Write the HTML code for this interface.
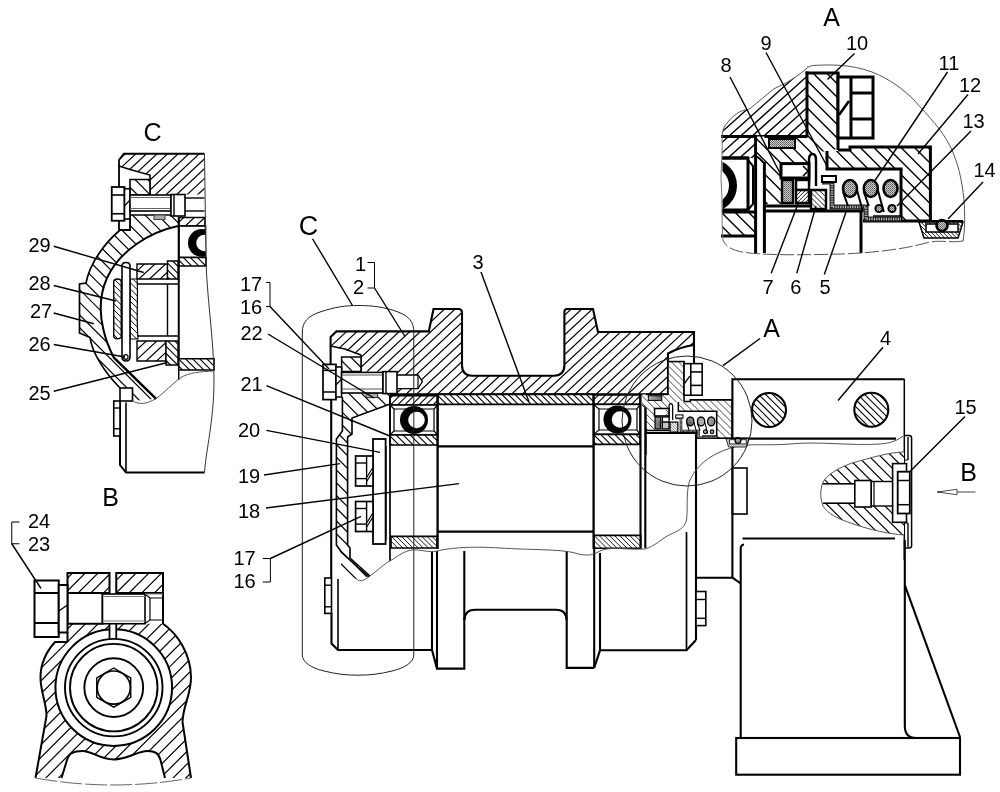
<!DOCTYPE html>
<html><head><meta charset="utf-8"><title>Drawing</title>
<style>html,body{margin:0;padding:0;background:#fff}svg{display:block;will-change:transform;opacity:0.999}text{font-family:"Liberation Sans",sans-serif;fill:#000}</style></head>
<body>
<svg width="1000" height="792" viewBox="0 0 1000 792" stroke-linecap="butt" stroke-linejoin="miter">
<rect width="1000" height="792" fill="#fff"/>
<defs>
<pattern id="st" width="2" height="2" patternUnits="userSpaceOnUse"><rect width="2" height="2" fill="#cfcfcf"/><rect width="1" height="1" fill="#555"/><rect x="1" y="1" width="1" height="1" fill="#777"/></pattern>
</defs>
<g id="1_viewB">
<text x="110.5" y="506" font-size="25" text-anchor="middle">B</text>
<text x="28" y="527.5" font-size="20" text-anchor="start">24</text>
<text x="28" y="551" font-size="20" text-anchor="start">23</text>
<path d="M19.5 522 L11.75 522 L11.75 543.75 L19.5 543.75" fill="none" stroke="#000" stroke-width="1" />
<clipPath id="h1"><path d="M67.5 642 L55 642 C46 652 40.5 664 40.5 677.5 C40.5 692 46.5 703 46.5 716 L35.5 778 L61.5 778 L67 760 C69 753 74 751 82.5 751 C92 751 100 759.5 113.75 759.5 C128 759.5 137 751 147.5 751 C155 751 158.5 753 160.5 760 L165 778 L191 778 L182.5 722 C183 705 191 695 191 677.5 C191 655 178 634 163 623.75 L67.5 623.75 Z"/></clipPath>
<path d="M67.5 642 L55 642 C46 652 40.5 664 40.5 677.5 C40.5 692 46.5 703 46.5 716 L35.5 778 L61.5 778 L67 760 C69 753 74 751 82.5 751 C92 751 100 759.5 113.75 759.5 C128 759.5 137 751 147.5 751 C155 751 158.5 753 160.5 760 L165 778 L191 778 L182.5 722 C183 705 191 695 191 677.5 C191 655 178 634 163 623.75 L67.5 623.75 Z" fill="#fff" stroke="none"/>
<path clip-path="url(#h1)" d="M114.2 544.1L-43.5 701.8M120.6 550.5L-37.1 708.2M126.9 556.8L-30.8 714.6M133.3 563.2L-24.4 720.9M139.7 569.6L-18.1 727.3M146.0 575.9L-11.7 733.6M152.4 582.3L-5.3 740.0M158.7 588.7L1.0 746.4M165.1 595.0L7.4 752.7M171.5 601.4L13.8 759.1M177.8 607.8L20.1 765.5M184.2 614.1L26.5 771.8M190.6 620.5L32.9 778.2M196.9 626.9L39.2 784.6M203.3 633.2L45.6 790.9M209.7 639.6L52.0 797.3M216.0 645.9L58.3 803.6M222.4 652.3L64.7 810.0M228.7 658.7L71.0 816.4M235.1 665.0L77.4 822.7M241.5 671.4L83.8 829.1M247.8 677.8L90.1 835.5M254.2 684.1L96.5 841.8M260.6 690.5L102.9 848.2M266.9 696.9L109.2 854.6" stroke="#000" stroke-width="1.2" fill="none"/>
<circle cx="113.75" cy="687.6" r="58.3" fill="#fff" stroke="#000" stroke-width="2" />
<rect x="109.5" y="623.75" width="6.75" height="16.25" fill="#fff" stroke="none" stroke-width="0" />
<path d="M67.5 642 L55 642 C46 652 40.5 664 40.5 677.5 C40.5 692 46.5 703 46.5 716 L35.5 778" fill="none" stroke="#000" stroke-width="2" />
<path d="M61.5 778 L67 760 C69 753 74 751 82.5 751 C92 751 100 759.5 113.75 759.5 C128 759.5 137 751 147.5 751 C155 751 158.5 753 160.5 760 L165 778" fill="none" stroke="#000" stroke-width="2" />
<path d="M191 778 L182.5 722 C183 705 191 695 191 677.5 C191 655 178 634 163 623.75" fill="none" stroke="#000" stroke-width="2" />
<line x1="109.5" y1="624" x2="109.5" y2="638.5" stroke="#000" stroke-width="1.8" />
<line x1="116.25" y1="624" x2="116.25" y2="638.5" stroke="#000" stroke-width="1.8" />
<circle cx="113.75" cy="687.6" r="48.75" fill="none" stroke="#000" stroke-width="1.9" />
<circle cx="113.75" cy="687.6" r="43.75" fill="none" stroke="#000" stroke-width="1.9" />
<circle cx="113.75" cy="687.6" r="29.4" fill="none" stroke="#000" stroke-width="1.9" />
<circle cx="113.75" cy="687.6" r="16.6" fill="none" stroke="#000" stroke-width="1.7" />
<path d="M113.75 668.0 L130.72 677.8 L130.72 697.4 L113.75 707.2 L96.78 697.4 L96.78 677.8 Z" fill="none" stroke="#000" stroke-width="1.4" />
<path d="M35.5 778 Q113 792 191 778" fill="none" stroke="#666" stroke-width="1" stroke-dasharray="22 3"/>
<clipPath id="h2"><path d="M67.5 573 L109.5 573 L109.5 593 L67.5 593 Z"/></clipPath>
<path d="M67.5 573 L109.5 573 L109.5 593 L67.5 593 Z" fill="#fff" stroke="none"/>
<path clip-path="url(#h2)" d="M92.5 553.1L58.6 587.0M98.8 559.5L65.0 593.3M105.2 565.9L71.4 599.7M111.6 572.2L77.7 606.1M117.9 578.6L84.1 612.4" stroke="#000" stroke-width="1.2" fill="none"/>
<path d="M67.5 573 L109.5 573 L109.5 593 L67.5 593 Z" fill="none" stroke="#000" stroke-width="2"/>
<clipPath id="h3"><path d="M116.25 573 L163 573 L163 593 L116.25 593 Z"/></clipPath>
<path d="M116.25 573 L163 573 L163 593 L116.25 593 Z" fill="#fff" stroke="none"/>
<path clip-path="url(#h3)" d="M144.7 551.8L108.5 588.0M151.0 558.2L114.8 594.4M157.4 564.6L121.2 600.8M163.8 570.9L127.6 607.1M170.1 577.3L133.9 613.5" stroke="#000" stroke-width="1.2" fill="none"/>
<path d="M116.25 573 L163 573 L163 593 L116.25 593 Z" fill="none" stroke="#000" stroke-width="2"/>
<line x1="163" y1="593" x2="163" y2="624" stroke="#000" stroke-width="2" />
<rect x="67.5" y="593" width="35.0" height="30.75" fill="#fff" stroke="#000" stroke-width="2" />
<rect x="102.5" y="594" width="42.5" height="29.75" fill="#fff" stroke="#000" stroke-width="1.6" />
<line x1="102.5" y1="596.5" x2="145" y2="596.5" stroke="#777" stroke-width="1" />
<line x1="102.5" y1="621" x2="145" y2="621" stroke="#777" stroke-width="1" />
<path d="M145 594 L150 598 L163 598" fill="none" stroke="#000" stroke-width="1.2" />
<path d="M145 623.5 L150 620 L163 620" fill="none" stroke="#000" stroke-width="1.2" />
<line x1="150" y1="598" x2="150" y2="620" stroke="#000" stroke-width="1.2" />
<line x1="145" y1="594" x2="163" y2="594" stroke="#888" stroke-width="1" />
<rect x="34.5" y="580.5" width="24.25" height="56.5" fill="#fff" stroke="#000" stroke-width="2" />
<line x1="34.5" y1="593" x2="58.75" y2="593" stroke="#000" stroke-width="2" />
<line x1="34.5" y1="623" x2="58.75" y2="623" stroke="#000" stroke-width="2" />
<rect x="58.75" y="585" width="8.75" height="47.5" fill="#fff" stroke="#000" stroke-width="2" />
<line x1="58.75" y1="611" x2="67.5" y2="605" stroke="#000" stroke-width="1.5" />
<line x1="67.5" y1="632.5" x2="67.5" y2="642" stroke="#000" stroke-width="2" />
<line x1="11.75" y1="543.75" x2="41" y2="588.5" stroke="#000" stroke-width="1.4" />
</g>
<g id="2_detC">
<text x="152.5" y="141" font-size="25" text-anchor="middle">C</text>
<text x="28.5" y="252" font-size="20" text-anchor="start">29</text>
<text x="28.5" y="290" font-size="20" text-anchor="start">28</text>
<text x="30" y="318" font-size="20" text-anchor="start">27</text>
<text x="28.5" y="351.3" font-size="20" text-anchor="start">26</text>
<text x="28.5" y="399.5" font-size="20" text-anchor="start">25</text>
<clipPath id="h4"><path d="M123.75 153.75 L204.5 153.75 L204.5 194.5 L150 194.5 L150 175 L119 166 L119 160 Z"/></clipPath>
<path d="M123.75 153.75 L204.5 153.75 L204.5 194.5 L150 194.5 L150 175 L119 166 L119 160 Z" fill="#fff" stroke="none"/>
<path clip-path="url(#h4)" d="M169.2 113.0L100.2 177.3M174.1 118.2L105.1 182.5M179.0 123.5L110.0 187.8M183.9 128.8L114.9 193.1M188.8 134.0L119.9 198.3M193.7 139.3L124.8 203.6M198.7 144.6L129.7 208.9M203.6 149.8L134.6 214.1M208.5 155.1L139.5 219.4M213.4 160.3L144.4 224.7M218.3 165.6L149.3 229.9M223.2 170.9L154.2 235.2" stroke="#000" stroke-width="1.2" fill="none"/>
<path d="M204.5 153.75 L123.75 153.75 L119 160 L119 187" fill="none" stroke="#000" stroke-width="1.8" />
<path d="M119 166 L130 169.5 L150 175 L150 194.5" fill="none" stroke="#000" stroke-width="1.6" />
<line x1="119" y1="221" x2="119" y2="230" stroke="#000" stroke-width="1.8" />
<clipPath id="h5"><path d="M130 179.5 L150 179.5 L150 195 L130 195 Z"/></clipPath>
<path d="M130 179.5 L150 179.5 L150 195 L130 195 Z" fill="#fff" stroke="none"/>
<path clip-path="url(#h5)" d="M124.7 182.0L145.3 202.6M131.1 175.6L151.6 196.2M137.4 169.2L158.0 189.8" stroke="#000" stroke-width="1.2" fill="none"/>
<path d="M130 179.5 L150 179.5 L150 195 L130 195 Z" fill="none" stroke="#000" stroke-width="1.6"/>
<clipPath id="h6"><path d="M130 215 L178 215 L178 226 C150 232 120 250 107 278 C99 296 99.5 314 103.5 330 C106 341 110 350 113.75 357.5 L156 398.75 L132.5 401 L132.5 388 L120 388 C104 372 92 352 90 337.5 L79.5 333 L79.5 284 L86 283 C90 262 106 242 119.5 230.5 L130 230 Z"/></clipPath>
<path d="M130 215 L178 215 L178 226 C150 232 120 250 107 278 C99 296 99.5 314 103.5 330 C106 341 110 350 113.75 357.5 L156 398.75 L132.5 401 L132.5 388 L120 388 C104 372 92 352 90 337.5 L79.5 333 L79.5 284 L86 283 C90 262 106 242 119.5 230.5 L130 230 Z" fill="#fff" stroke="none"/>
<path clip-path="url(#h6)" d="M-10.1 301.8L135.0 446.8M-3.7 295.4L141.4 440.5M2.6 289.0L147.7 434.1M9.0 282.7L154.1 427.7M15.4 276.3L160.5 421.4M21.7 269.9L166.8 415.0M28.1 263.6L173.2 408.6M34.5 257.2L179.5 402.3M40.8 250.8L185.9 395.9M47.2 244.5L192.3 389.6M53.6 238.1L198.6 383.2M59.9 231.7L205.0 376.8M66.3 225.4L211.4 370.5M72.7 219.0L217.7 364.1M79.0 212.7L224.1 357.7M85.4 206.3L230.5 351.4M91.7 199.9L236.8 345.0M98.1 193.6L243.2 338.6M104.5 187.2L249.5 332.3M110.8 180.8L255.9 325.9M117.2 174.5L262.3 319.6M123.6 168.1L268.6 313.2" stroke="#000" stroke-width="1.2" fill="none"/>
<path d="M178 226 C150 232 120 250 107 278 C99 296 99.5 314 103.5 330 C106 341 110 350 113.75 357.5 L156 398.75" fill="none" stroke="#000" stroke-width="2" />
<path d="M119.5 230.5 C106 242 90 262 86 283 L79.5 284 L79.5 333 L90 337.5 C92 352 104 372 120 388" fill="none" stroke="#000" stroke-width="1.7" />
<path d="M119 230 L130 230 L130 188.75" fill="none" stroke="#000" stroke-width="1.8" />
<rect x="111.75" y="187" width="12.75" height="33.75" fill="#fff" stroke="#000" stroke-width="1.8" />
<line x1="111.75" y1="195" x2="124.5" y2="195" stroke="#000" stroke-width="1.6" />
<line x1="111.75" y1="213.75" x2="124.5" y2="213.75" stroke="#000" stroke-width="1.6" />
<rect x="124.5" y="188.75" width="5.5" height="30.25" fill="#fff" stroke="#000" stroke-width="1.6" />
<line x1="124.5" y1="206" x2="130" y2="200" stroke="#000" stroke-width="1.2" />
<rect x="130" y="195" width="41" height="16" fill="#fff" stroke="#000" stroke-width="1.6" />
<line x1="130" y1="197.5" x2="171" y2="197.5" stroke="#666" stroke-width="1" />
<line x1="130" y1="208.5" x2="171" y2="208.5" stroke="#666" stroke-width="1" />
<rect x="171" y="194.5" width="14" height="21.5" fill="#fff" stroke="#000" stroke-width="1.6" />
<line x1="174" y1="194.5" x2="174" y2="216" stroke="#000" stroke-width="1.4" />
<path d="M185 198 L204.5 198" fill="none" stroke="#000" stroke-width="1.4" />
<path d="M185 211 L204.5 211" fill="none" stroke="#000" stroke-width="1.4" />
<line x1="130" y1="215" x2="171" y2="215" stroke="#000" stroke-width="1.6" />
<rect x="154" y="215" width="11" height="4.5" fill="#aaa" stroke="#444" stroke-width="1" />
<clipPath id="h7"><path d="M178.75 217.5 L205 217.5 L205 226 L178.75 226 Z"/></clipPath>
<path d="M178.75 217.5 L205 217.5 L205 226 L178.75 226 Z" fill="#fff" stroke="none"/>
<path clip-path="url(#h7)" d="M196.6 205.5L175.4 225.3M201.5 210.8L180.3 230.6M206.4 216.1L185.2 235.9M211.3 221.3L190.1 241.1" stroke="#000" stroke-width="1.2" fill="none"/>
<path d="M178.75 217.5 L205 217.5 L205 226 L178.75 226 Z" fill="none" stroke="#000" stroke-width="1.6"/>
<rect x="178.75" y="226" width="26.75" height="31.5" fill="#fff" stroke="#000" stroke-width="1.6" />
<clipPath id="h8"><path d="M178.75 257.5 L206 257.5 L206 266 L178.75 266 Z"/></clipPath>
<path d="M178.75 257.5 L206 257.5 L206 266 L178.75 266 Z" fill="#fff" stroke="none"/>
<path clip-path="url(#h8)" d="M172.5 260.9L193.2 281.6M176.1 257.4L196.8 278.1M179.6 253.8L200.3 274.5M183.1 250.3L203.8 271.0M186.7 246.8L207.4 267.5M190.2 243.2L210.9 263.9" stroke="#000" stroke-width="1.1" fill="none"/>
<path d="M178.75 257.5 L206 257.5 L206 266 L178.75 266 Z" fill="none" stroke="#000" stroke-width="1.6"/>
<clipPath id="cC"><path d="M100 150 L204.5 150 L206 260 C207 300 214 340 214 380 C214 420 206 450 204.5 472.5 L204.5 480 L100 480 Z"/></clipPath>
<g clip-path="url(#cC)">
<circle cx="202" cy="243" r="14" fill="#000" stroke="none" stroke-width="0" />
<circle cx="204.5" cy="243" r="8.3" fill="#fff" stroke="none" stroke-width="0" />
</g>
<line x1="178.75" y1="217" x2="178.75" y2="366" stroke="#000" stroke-width="2" />
<clipPath id="h9"><path d="M137 264 L167.5 264 L167.5 279 L137 279 Z"/></clipPath>
<path d="M137 264 L167.5 264 L167.5 279 L137 279 Z" fill="#fff" stroke="none"/>
<path clip-path="url(#h9)" d="M158.2 251.1L131.5 276.1M163.2 256.4L136.4 281.3M168.1 261.7L141.3 286.6M173.0 266.9L146.3 291.9" stroke="#000" stroke-width="1.2" fill="none"/>
<path d="M137 264 L167.5 264 L167.5 279 L137 279 Z" fill="none" stroke="#000" stroke-width="1.4"/>
<clipPath id="h10"><path d="M167.5 261 L178 261 L178 279 L167.5 279 Z"/></clipPath>
<path d="M167.5 261 L178 261 L178 279 L167.5 279 Z" fill="#fff" stroke="none"/>
<path clip-path="url(#h10)" d="M158.0 267.6L175.1 284.7M161.6 264.1L178.6 281.2M165.1 260.6L182.2 277.6M168.6 257.0L185.7 274.1" stroke="#000" stroke-width="1.1" fill="none"/>
<path d="M167.5 261 L178 261 L178 279 L167.5 279 Z" fill="none" stroke="#000" stroke-width="1.4"/>
<line x1="137" y1="284" x2="178" y2="284" stroke="#000" stroke-width="1.4" />
<line x1="167.5" y1="284" x2="167.5" y2="336" stroke="#000" stroke-width="1.4" />
<line x1="137" y1="336" x2="178" y2="336" stroke="#000" stroke-width="1.4" />
<clipPath id="h11"><path d="M137 341 L166 341 L166 361 L137 361 Z"/></clipPath>
<path d="M137 341 L166 341 L166 361 L137 361 Z" fill="#fff" stroke="none"/>
<path clip-path="url(#h11)" d="M153.4 324.6L125.0 351.1M158.3 329.8L129.9 356.3M163.2 335.1L134.8 361.6M168.1 340.4L139.7 366.9M173.1 345.6L144.6 372.1M178.0 350.9L149.6 377.4" stroke="#000" stroke-width="1.2" fill="none"/>
<path d="M137 341 L166 341 L166 361 L137 361 Z" fill="none" stroke="#000" stroke-width="1.4"/>
<clipPath id="h12"><path d="M166 341 L178 341 L178 365 L166 365 Z"/></clipPath>
<path d="M166 341 L178 341 L178 365 L166 365 Z" fill="#fff" stroke="none"/>
<path clip-path="url(#h12)" d="M154.9 349.3L175.7 370.1M158.4 345.8L179.2 366.6M161.9 342.2L182.8 363.1M165.5 338.7L186.3 359.5M169.0 335.2L189.8 356.0" stroke="#000" stroke-width="1.1" fill="none"/>
<path d="M166 341 L178 341 L178 365 L166 365 Z" fill="none" stroke="#000" stroke-width="1.4"/>
<clipPath id="h13"><path d="M130 279 L137 279 C138.5 295 136 310 138 339 L130 339 Z"/></clipPath>
<path d="M130 279 L137 279 C138.5 295 136 310 138 339 L130 339 Z" fill="#fff" stroke="none"/>
<path clip-path="url(#h13)" d="M98.9 307.3L135.9 344.4M102.0 304.2L139.0 341.3M105.1 301.1L142.2 338.2M108.2 298.0L145.3 335.1M111.3 294.9L148.4 331.9M114.4 291.8L151.5 328.8M117.5 288.6L154.6 325.7M120.6 285.5L157.7 322.6M123.7 282.4L160.8 319.5M126.9 279.3L163.9 316.4M130.0 276.2L167.0 313.3M133.1 273.1L170.2 310.2" stroke="#000" stroke-width="1" fill="none"/>
<path d="M130 279 L137 279 C138.5 295 136 310 138 339 L130 339 Z" fill="none" stroke="#000" stroke-width="1.2"/>
<clipPath id="h14"><path d="M113.75 282 Q113.75 279 117.5 279 Q121.25 279 121.25 282 L121.25 336 Q121.25 338.75 117.5 338.75 Q113.75 338.75 113.75 336 Z"/></clipPath>
<path d="M113.75 282 Q113.75 279 117.5 279 Q121.25 279 121.25 282 L121.25 336 Q121.25 338.75 117.5 338.75 Q113.75 338.75 113.75 336 Z" fill="#fff" stroke="none"/>
<path clip-path="url(#h14)" d="M84.5 305.4L121.0 341.9M87.6 302.3L124.1 338.8M90.7 299.2L127.2 335.6M93.8 296.1L130.3 332.5M97.0 293.0L133.4 329.4M100.1 289.9L136.5 326.3M103.2 286.7L139.6 323.2M106.3 283.6L142.7 320.1M109.4 280.5L145.9 317.0M112.5 277.4L149.0 313.9M115.6 274.3L152.1 310.8" stroke="#000" stroke-width="1" fill="none"/>
<path d="M113.75 282 Q113.75 279 117.5 279 Q121.25 279 121.25 282 L121.25 336 Q121.25 338.75 117.5 338.75 Q113.75 338.75 113.75 336 Z" fill="none" stroke="#000" stroke-width="1.4"/>
<path d="M122 266 Q122 262.5 126 262.5 Q130 262.5 130 266 L130 357 Q130 361 126 361 Q122 361 122 357 Z" fill="#fff" stroke="#000" stroke-width="1.6" />
<circle cx="125.8" cy="357" r="2.3" fill="none" stroke="#000" stroke-width="1.2" />
<line x1="113.75" y1="357.5" x2="156" y2="398.75" stroke="#000" stroke-width="2.4" />
<clipPath id="h15"><path d="M178.75 358.75 L214 358.75 L214 370 L178.75 370 Z"/></clipPath>
<path d="M178.75 358.75 L214 358.75 L214 370 L178.75 370 Z" fill="#fff" stroke="none"/>
<path clip-path="url(#h15)" d="M173.6 361.0L199.7 387.1M177.2 357.5L203.3 383.6M180.7 354.0L206.8 380.0M184.3 350.4L210.3 376.5M187.8 346.9L213.9 373.0M191.3 343.3L217.4 369.4M194.9 339.8L220.9 365.9" stroke="#000" stroke-width="1.1" fill="none"/>
<path d="M178.75 358.75 L214 358.75 L214 370 L178.75 370 Z" fill="none" stroke="#000" stroke-width="1.6"/>
<line x1="178.75" y1="370" x2="178.75" y2="380" stroke="#000" stroke-width="1.4" />
<rect x="120" y="388" width="12.5" height="13" fill="#fff" stroke="#000" stroke-width="1.6" />
<path d="M120 401 L120 465 L126 472.5 L204.5 472.5" fill="none" stroke="#000" stroke-width="2" />
<line x1="126" y1="402.5" x2="126" y2="472.5" stroke="#000" stroke-width="1.6" />
<rect x="113.75" y="401" width="6.25" height="35" fill="#fff" stroke="#000" stroke-width="1.6" />
<line x1="113.75" y1="408" x2="120" y2="408" stroke="#000" stroke-width="1.4" />
<line x1="113.75" y1="428.75" x2="120" y2="428.75" stroke="#000" stroke-width="1.4" />
<path d="M204.5 153.75 L206 260 C207 300 214 340 214 380 C214 420 206 450 204.5 472.5" fill="none" stroke="#333" stroke-width="1" />
<path d="M132.5 401 C140 405 146 404 156 398.75 C165 392 172 384 180 378 C190 372 200 372 213 371" fill="none" stroke="#555" stroke-width="1" />
<line x1="53.75" y1="246.25" x2="143.75" y2="272.5" stroke="#000" stroke-width="1.4" />
<line x1="53.75" y1="285.5" x2="116" y2="301" stroke="#000" stroke-width="1.4" />
<line x1="53.75" y1="313" x2="93.75" y2="323.75" stroke="#000" stroke-width="1.4" />
<line x1="53.75" y1="344.5" x2="125" y2="357" stroke="#000" stroke-width="1.4" />
<line x1="53.75" y1="391.25" x2="167.5" y2="362.5" stroke="#000" stroke-width="1.4" />
</g>
<g id="3_main">
<clipPath id="h16"><path d="M336.4 331.4 L428.8 331.4 L433.5 309 L458.5 309 Q462 309 462 313 L462 365 Q462 375.7 472 375.7 L554 375.7 Q564.4 375.7 564.4 365 L564.4 312 Q564.4 309 567 309 L593 309 L598 332 L694 332 L694 345 Q680 347 668 353.5 L668 394.4 L397 394.4 L397 388.6 L418 388.6 L422.4 381.6 L418 375 L397 375 L397 371.6 L361 371.6 L361 355 L330.6 346 L330.6 337 Z"/></clipPath>
<path d="M336.4 331.4 L428.8 331.4 L433.5 309 L458.5 309 Q462 309 462 313 L462 365 Q462 375.7 472 375.7 L554 375.7 Q564.4 375.7 564.4 365 L564.4 312 Q564.4 309 567 309 L593 309 L598 332 L694 332 L694 345 Q680 347 668 353.5 L668 394.4 L397 394.4 L397 388.6 L418 388.6 L422.4 381.6 L418 375 L397 375 L397 371.6 L361 371.6 L361 355 L330.6 346 L330.6 337 Z" fill="#fff" stroke="none"/>
<path clip-path="url(#h16)" d="M530.4 130.6L290.5 354.3M535.3 135.8L295.4 359.6M540.2 141.1L300.3 364.8M545.1 146.4L305.2 370.1M550.0 151.6L310.1 375.3M554.9 156.9L315.0 380.6M559.8 162.2L319.9 385.9M564.7 167.4L324.8 391.1M569.6 172.7L329.7 396.4M574.5 178.0L334.7 401.7M579.5 183.2L339.6 406.9M584.4 188.5L344.5 412.2M589.3 193.8L349.4 417.5M594.2 199.0L354.3 422.7M599.1 204.3L359.2 428.0M604.0 209.6L364.1 433.3M608.9 214.8L369.0 438.5M613.8 220.1L373.9 443.8M618.7 225.4L378.8 449.1M623.7 230.6L383.8 454.3M628.6 235.9L388.7 459.6M633.5 241.2L393.6 464.9M638.4 246.4L398.5 470.1M643.3 251.7L403.4 475.4M648.2 257.0L408.3 480.7M653.1 262.2L413.2 485.9M658.0 267.5L418.1 491.2M662.9 272.8L423.0 496.5M667.8 278.0L427.9 501.7M672.8 283.3L432.9 507.0M677.7 288.6L437.8 512.3M682.6 293.8L442.7 517.5M687.5 299.1L447.6 522.8M692.4 304.3L452.5 528.1M697.3 309.6L457.4 533.3M702.2 314.9L462.3 538.6M707.1 320.1L467.2 543.9M712.0 325.4L472.1 549.1M716.9 330.7L477.1 554.4M721.9 335.9L482.0 559.6M726.8 341.2L486.9 564.9M731.7 346.5L491.8 570.2M736.6 351.7L496.7 575.4" stroke="#000" stroke-width="1.2" fill="none"/>
<path d="M330.6 365 L330.6 337 L336.4 331.4 L428.8 331.4 L433.5 309 L458.5 309 Q462 309 462 313 L462 365 Q462 375.7 472 375.7 L554 375.7 Q564.4 375.7 564.4 365 L564.4 312 Q564.4 309 567 309 L593 309 L598 332 L694 332 L694 365" fill="none" stroke="#000" stroke-width="2.1" />
<path d="M330.6 346 L345 349 L361 355 L361 371.6" fill="none" stroke="#000" stroke-width="1.5" />
<path d="M668 396 L668 353.5 Q680 347 694 345" fill="none" stroke="#000" stroke-width="2.1" />
<line x1="390" y1="394.4" x2="668" y2="394.4" stroke="#000" stroke-width="2.1" />
<path d="M397 375 L418 375 L422.4 381.6 L418 388.6 L397 388.6" fill="none" stroke="#000" stroke-width="1.3" />
<line x1="418" y1="375" x2="418" y2="388.6" stroke="#000" stroke-width="1.2" />
<clipPath id="h17"><path d="M341.6 357 L361 357 L361 371.6 L341.6 371.6 Z"/></clipPath>
<path d="M341.6 357 L361 357 L361 371.6 L341.6 371.6 Z" fill="#fff" stroke="none"/>
<path clip-path="url(#h17)" d="M338.3 357.4L358.2 377.3M344.7 351.1L364.5 370.9" stroke="#000" stroke-width="1.2" fill="none"/>
<path d="M341.6 357 L361 357 L361 371.6 L341.6 371.6 Z" fill="none" stroke="#000" stroke-width="1.5"/>
<clipPath id="h18"><path d="M341.6 393 L390 393 L390 404 L352 418 L352 434 L347.6 437 L347.6 545 L350 548 L350 558 L370 576 L358 580 L341 572 L341 552 L340 550 L336.4 545 L336.4 439 L342.4 431 L342.4 400 Z"/></clipPath>
<path d="M341.6 393 L390 393 L390 404 L352 418 L352 434 L347.6 437 L347.6 545 L350 548 L350 558 L370 576 L358 580 L341 572 L341 552 L340 550 L336.4 545 L336.4 439 L342.4 431 L342.4 400 Z" fill="#fff" stroke="none"/>
<path clip-path="url(#h18)" d="M245.6 481.0L368.7 604.1M251.9 474.7L375.0 597.8M258.3 468.3L381.4 591.4M264.6 461.9L387.8 585.1M271.0 455.6L394.1 578.7M277.4 449.2L400.5 572.3M283.7 442.8L406.9 566.0M290.1 436.5L413.2 559.6M296.5 430.1L419.6 553.2M302.8 423.7L426.0 546.9M309.2 417.4L432.3 540.5M315.6 411.0L438.7 534.1M321.9 404.7L445.0 527.8M328.3 398.3L451.4 521.4M334.6 391.9L457.8 515.1M341.0 385.6L464.1 508.7M347.4 379.2L470.5 502.3M353.7 372.8L476.9 496.0M360.1 366.5L483.2 489.6" stroke="#000" stroke-width="1.2" fill="none"/>
<path d="M342.4 397 L342.4 431 L336.4 439 L336.4 545 L340 550 L341 552" fill="none" stroke="#000" stroke-width="1.6" />
<path d="M390 404 L352 418 L352 434 L347.6 437 L347.6 545 L350 548 L350 558 L370 576" fill="none" stroke="#000" stroke-width="1.6" />
<line x1="341" y1="552" x2="369" y2="577" stroke="#000" stroke-width="1.6" />
<rect x="366" y="393" width="11.600000000000023" height="4.600000000000023" fill="#aaa" stroke="#333" stroke-width="1" />
<rect x="323" y="364.4" width="13" height="35.200000000000045" fill="#fff" stroke="#000" stroke-width="1.7" />
<line x1="323" y1="370.4" x2="336" y2="370.4" stroke="#000" stroke-width="1.5" />
<line x1="323" y1="392" x2="336" y2="392" stroke="#000" stroke-width="1.5" />
<rect x="336" y="367" width="5.600000000000023" height="30" fill="#fff" stroke="#000" stroke-width="1.5" />
<line x1="336" y1="385" x2="341.6" y2="379" stroke="#000" stroke-width="1.2" />
<rect x="341.6" y="372.4" width="41.39999999999998" height="20.600000000000023" fill="#fff" stroke="#000" stroke-width="1.6" />
<line x1="341.6" y1="375" x2="383" y2="375" stroke="#555" stroke-width="1" />
<line x1="341.6" y1="389" x2="383" y2="389" stroke="#555" stroke-width="1" />
<rect x="383" y="371.6" width="14" height="22.0" fill="#fff" stroke="#000" stroke-width="1.6" />
<line x1="386" y1="371.6" x2="386" y2="393.6" stroke="#000" stroke-width="1.4" />
<line x1="331.2" y1="399.6" x2="331.2" y2="578" stroke="#000" stroke-width="2.1" />
<path d="M331.5 613 L331.5 643.5 L338 650 L431 650" fill="none" stroke="#000" stroke-width="2.1" />
<line x1="338" y1="579" x2="338" y2="650" stroke="#000" stroke-width="1.6" />
<rect x="324.8" y="578" width="6.699999999999989" height="35.39999999999998" fill="#fff" stroke="#000" stroke-width="1.6" />
<line x1="324.8" y1="585.2" x2="331.5" y2="585.2" stroke="#000" stroke-width="1.4" />
<line x1="324.8" y1="606.8" x2="331.5" y2="606.8" stroke="#000" stroke-width="1.4" />
<clipPath id="h19"><path d="M390 395.6 L437.6 395.6 L437.6 405 L390 405 Z"/></clipPath>
<path d="M390 395.6 L437.6 395.6 L437.6 405 L390 405 Z" fill="#fff" stroke="none"/>
<path clip-path="url(#h19)" d="M416.6 371.8L385.3 403.1M420.2 375.3L388.8 406.7M423.7 378.9L392.4 410.2M427.2 382.4L395.9 413.7M430.8 385.9L399.4 417.3M434.3 389.5L403.0 420.8M437.8 393.0L406.5 424.3M441.4 396.5L410.0 427.9" stroke="#000" stroke-width="1.1" fill="none"/>
<path d="M390 395.6 L437.6 395.6 L437.6 405 L390 405 Z" fill="none" stroke="#000" stroke-width="1.6"/>
<rect x="390" y="405" width="47.60000000000002" height="30" fill="#fff" stroke="#000" stroke-width="1.6" />
<path d="M390 405 L394 409 L394 431 L390 435" fill="none" stroke="#000" stroke-width="1.2" />
<path d="M437.6 405 L434 409 L434 431 L437.6 435" fill="none" stroke="#000" stroke-width="1.2" />
<line x1="394" y1="409" x2="434" y2="409" stroke="#000" stroke-width="1.2" />
<line x1="394" y1="431" x2="434" y2="431" stroke="#000" stroke-width="1.2" />
<circle cx="414" cy="420" r="14" fill="#000" stroke="none" stroke-width="0" />
<circle cx="416.5" cy="420" r="8.3" fill="#fff" stroke="none" stroke-width="0" />
<clipPath id="h20"><path d="M390 435 L437.6 435 L437.6 445 L390 445 Z"/></clipPath>
<path d="M390 435 L437.6 435 L437.6 445 L390 445 Z" fill="#fff" stroke="none"/>
<path clip-path="url(#h20)" d="M384.6 437.6L416.2 469.2M388.1 434.1L419.7 465.7M391.6 430.5L423.3 462.2M395.2 427.0L426.8 458.6M398.7 423.5L430.3 455.1M402.2 419.9L433.9 451.6M405.8 416.4L437.4 448.0M409.3 412.9L440.9 444.5M412.9 409.3L444.5 440.9" stroke="#000" stroke-width="1.1" fill="none"/>
<path d="M390 435 L437.6 435 L437.6 445 L390 445 Z" fill="none" stroke="#000" stroke-width="1.6"/>
<line x1="390" y1="395" x2="390" y2="561" stroke="#000" stroke-width="1.7" />
<line x1="386" y1="446" x2="386" y2="540" stroke="#000" stroke-width="1.2" />
<clipPath id="h21"><path d="M437.6 394.4 L593.6 394.4 L593.6 404.4 L437.6 404.4 Z"/></clipPath>
<path d="M437.6 394.4 L593.6 394.4 L593.6 404.4 L437.6 404.4 Z" fill="#fff" stroke="none"/>
<path clip-path="url(#h21)" d="M432.5 396.7L518.3 482.5M435.7 393.4L521.6 479.3M439.0 390.2L524.8 476.0M442.2 386.9L528.1 472.8M445.5 383.7L531.3 469.5M448.7 380.4L534.6 466.3M452.0 377.2L537.8 463.0M455.2 373.9L541.1 459.8M458.5 370.7L544.3 456.5M461.7 367.4L547.6 453.3M465.0 364.2L550.8 450.0M468.3 360.9L554.1 446.7M471.5 357.7L557.3 443.5M474.8 354.4L560.6 440.2M478.0 351.2L563.8 437.0M481.3 347.9L567.1 433.7M484.5 344.7L570.3 430.5M487.8 341.4L573.6 427.2M491.0 338.1L576.9 424.0M494.3 334.9L580.1 420.7M497.5 331.6L583.4 417.5M500.8 328.4L586.6 414.2M504.0 325.1L589.9 411.0M507.3 321.9L593.1 407.7M510.5 318.6L596.4 404.5M513.8 315.4L599.6 401.2" stroke="#000" stroke-width="1.1" fill="none"/>
<path d="M437.6 394.4 L593.6 394.4 L593.6 404.4 L437.6 404.4 Z" fill="none" stroke="#000" stroke-width="1.6"/>
<clipPath id="h22"><path d="M593.6 395 L640 395 L640 404.4 L593.6 404.4 Z"/></clipPath>
<path d="M593.6 395 L640 395 L640 404.4 L593.6 404.4 Z" fill="#fff" stroke="none"/>
<path clip-path="url(#h22)" d="M620.7 372.8L589.9 403.6M624.2 376.4L593.5 407.1M627.7 379.9L597.0 410.6M631.3 383.4L600.5 414.2M634.8 387.0L604.1 417.7M638.3 390.5L607.6 421.2M641.9 394.0L611.1 424.8M645.4 397.6L614.7 428.3" stroke="#000" stroke-width="1.1" fill="none"/>
<path d="M593.6 395 L640 395 L640 404.4 L593.6 404.4 Z" fill="none" stroke="#000" stroke-width="1.6"/>
<rect x="593.6" y="404.4" width="46.39999999999998" height="30.0" fill="#fff" stroke="#000" stroke-width="1.6" />
<path d="M593.6 404.4 L599 409 L599 430 L593.6 434.4" fill="none" stroke="#000" stroke-width="1.2" />
<path d="M640 404.4 L637 409 L637 430 L640 434.4" fill="none" stroke="#000" stroke-width="1.2" />
<line x1="599" y1="409" x2="637" y2="409" stroke="#000" stroke-width="1.2" />
<line x1="599" y1="430" x2="637" y2="430" stroke="#000" stroke-width="1.2" />
<circle cx="617.5" cy="419.5" r="14" fill="#000" stroke="none" stroke-width="0" />
<circle cx="620" cy="419.5" r="8.3" fill="#fff" stroke="none" stroke-width="0" />
<clipPath id="h23"><path d="M593.6 434.4 L640 434.4 L640 444.4 L593.6 444.4 Z"/></clipPath>
<path d="M593.6 434.4 L640 434.4 L640 444.4 L593.6 444.4 Z" fill="#fff" stroke="none"/>
<path clip-path="url(#h23)" d="M588.6 436.6L619.6 467.6M592.1 433.0L623.2 464.1M595.7 429.5L626.7 460.5M599.2 426.0L630.2 457.0M602.7 422.4L633.8 453.5M606.3 418.9L637.3 449.9M609.8 415.4L640.8 446.4M613.3 411.8L644.4 442.9" stroke="#000" stroke-width="1.1" fill="none"/>
<path d="M593.6 434.4 L640 434.4 L640 444.4 L593.6 444.4 Z" fill="none" stroke="#000" stroke-width="1.6"/>
<clipPath id="h24"><path d="M391 536.4 L437 536.4 L437 548 L391 548 Z"/></clipPath>
<path d="M391 536.4 L437 536.4 L437 548 L391 548 Z" fill="#fff" stroke="none"/>
<path clip-path="url(#h24)" d="M384.6 539.9L416.3 571.6M387.2 537.4L418.8 569.0M389.7 534.8L421.4 566.5M392.3 532.3L423.9 563.9M394.8 529.7L426.5 561.4M397.4 527.2L429.0 558.8M399.9 524.7L431.5 556.3M402.5 522.1L434.1 553.7M405.0 519.6L436.6 551.2M407.6 517.0L439.2 548.6M410.1 514.5L441.7 546.1M412.6 511.9L444.3 543.6" stroke="#000" stroke-width="0.9" fill="none"/>
<path d="M391 536.4 L437 536.4 L437 548 L391 548 Z" fill="none" stroke="#000" stroke-width="1.6"/>
<clipPath id="h25"><path d="M594.2 535.4 L640.8 535.4 L640.8 548.2 L594.2 548.2 Z"/></clipPath>
<path d="M594.2 535.4 L640.8 535.4 L640.8 548.2 L594.2 548.2 Z" fill="#fff" stroke="none"/>
<path clip-path="url(#h25)" d="M587.6 539.2L620.1 571.7M590.1 536.7L622.6 569.2M592.7 534.1L625.2 566.6M595.2 531.6L627.7 564.1M597.8 529.0L630.3 561.5M600.3 526.5L632.8 559.0M602.8 523.9L635.4 556.5M605.4 521.4L637.9 553.9M607.9 518.8L640.5 551.4M610.5 516.3L643.0 548.8M613.0 513.7L645.6 546.3M615.6 511.2L648.1 543.7" stroke="#000" stroke-width="0.9" fill="none"/>
<path d="M594.2 535.4 L640.8 535.4 L640.8 548.2 L594.2 548.2 Z" fill="none" stroke="#000" stroke-width="1.6"/>
<line x1="437.6" y1="394.4" x2="437.6" y2="549" stroke="#000" stroke-width="2.3000000000000003" />
<line x1="593.6" y1="394.4" x2="593.6" y2="549" stroke="#000" stroke-width="2.3000000000000003" />
<line x1="437.6" y1="446.4" x2="593.6" y2="446.4" stroke="#000" stroke-width="2.1" />
<line x1="437.6" y1="531.6" x2="593.6" y2="531.6" stroke="#000" stroke-width="2.1" />
<line x1="640.5" y1="395" x2="640.5" y2="548" stroke="#000" stroke-width="2.1" />
<line x1="645.3" y1="395" x2="645.3" y2="548" stroke="#000" stroke-width="2.1" />
<path d="M645.3 433 L696 433 L696 640" fill="none" stroke="#000" stroke-width="2.1" />
<rect x="373" y="439" width="12.600000000000023" height="105" fill="#fff" stroke="#000" stroke-width="1.8" />
<rect x="355.6" y="456" width="17.399999999999977" height="30" fill="#fff" stroke="#000" stroke-width="1.7" />
<line x1="366.6" y1="456" x2="366.6" y2="486" stroke="#000" stroke-width="1.4" />
<line x1="355.6" y1="463" x2="366.6" y2="463" stroke="#000" stroke-width="1.4" />
<line x1="355.6" y1="478.6" x2="366.6" y2="478.6" stroke="#000" stroke-width="1.4" />
<line x1="367" y1="477" x2="372.6" y2="468" stroke="#000" stroke-width="1.2" />
<line x1="367" y1="481" x2="372.6" y2="472" stroke="#000" stroke-width="1.2" />
<rect x="355.6" y="501.5" width="17.399999999999977" height="30.0" fill="#fff" stroke="#000" stroke-width="1.7" />
<line x1="366.6" y1="501.5" x2="366.6" y2="531.5" stroke="#000" stroke-width="1.4" />
<line x1="355.6" y1="508.5" x2="366.6" y2="508.5" stroke="#000" stroke-width="1.4" />
<line x1="355.6" y1="524.1" x2="366.6" y2="524.1" stroke="#000" stroke-width="1.4" />
<line x1="367" y1="522.5" x2="372.6" y2="513.5" stroke="#000" stroke-width="1.2" />
<line x1="367" y1="526.5" x2="372.6" y2="517.5" stroke="#000" stroke-width="1.2" />
<path d="M432 551 L432 650 L437 668.6 L464.3 668.6 L464.3 618" fill="none" stroke="#000" stroke-width="2.1" />
<line x1="437" y1="551" x2="437" y2="668.6" stroke="#000" stroke-width="2.1" />
<line x1="464.3" y1="551" x2="464.3" y2="620" stroke="#000" stroke-width="2.1" />
<path d="M464.3 620 Q465 609.7 475 609.7 L556 609.7 Q566 609.7 566.7 620" fill="none" stroke="#000" stroke-width="2.1" />
<path d="M566.7 551 L566.7 667.9 L594.2 667.9" fill="none" stroke="#000" stroke-width="2.1" />
<line x1="594.2" y1="548" x2="594.2" y2="667.9" stroke="#000" stroke-width="2.1" />
<path d="M594.2 667.9 L600 650.3 L686.5 650.3 L696 640" fill="none" stroke="#000" stroke-width="2.1" />
<line x1="600" y1="553" x2="600" y2="650.3" stroke="#000" stroke-width="2.1" />
<line x1="686.5" y1="532" x2="686.5" y2="650.3" stroke="#000" stroke-width="1.7" />
<rect x="696" y="591.5" width="9.799999999999955" height="34.10000000000002" fill="#fff" stroke="#000" stroke-width="1.6" />
<line x1="696" y1="599.5" x2="705.8" y2="599.5" stroke="#000" stroke-width="1.4" />
<line x1="696" y1="618.3" x2="705.8" y2="618.3" stroke="#000" stroke-width="1.4" />
<path d="M696 577.8 L732.8 577.8 L740.7 583.5" fill="none" stroke="#000" stroke-width="2.1" />
<path d="M358 580 C362 582 366 579 370 576 C378 570 384 564 390 561 C398 556 404 551 412 550 C420 549 428 553 437 551 C450 548 470 546 500 548 C530 550 560 549 575 553 C585 556 592 556 600 551 C610 546 625 550 645 549 C655 546 660 540 669 535 C678 531 685 528 686.5 520 C688 508 686 495 689 483 C693 470 705 459 718 453 C724 450 728 449 734 447 C750 443 765 446 790 444 C820 441 850 446 880 444 C892 443 898 440 903 436" fill="none" stroke="#555" stroke-width="1" />
<path d="M732.4 577.8 L732.4 379.2 L904.3 379.2" fill="none" stroke="#000" stroke-width="2.1" />
<line x1="904.3" y1="379" x2="904.3" y2="560" stroke="#000" stroke-width="1.5" />
<line x1="732.4" y1="438.7" x2="896" y2="438.7" stroke="#000" stroke-width="2.3000000000000003" />
<rect x="732.4" y="468" width="14.600000000000023" height="46" fill="none" stroke="#000" stroke-width="1.6" />
<line x1="742.5" y1="538.5" x2="895" y2="538.5" stroke="#000" stroke-width="2.1" />
<path d="M740.7 738 L740.7 549 Q740.7 545 744 544.5" fill="none" stroke="#000" stroke-width="2.1" />
<path d="M904.8 540 L904.8 726 Q905 738 916 738" fill="none" stroke="#000" stroke-width="2.1" />
<rect x="736.2" y="738" width="223.79999999999995" height="36.700000000000045" fill="none" stroke="#000" stroke-width="2.1" />
<line x1="904.8" y1="585.2" x2="960" y2="737" stroke="#000" stroke-width="2.1" />
<clipPath id="h26"><circle cx="769" cy="410" r="17"/></clipPath>
<circle cx="769" cy="410" r="17" fill="#fff" stroke="none"/>
<path clip-path="url(#h26)" d="M735.5 406.7L772.3 443.5M739.0 403.1L775.9 440.0M742.6 399.6L779.4 436.4M746.1 396.1L782.9 432.9M749.6 392.5L786.5 429.4M753.2 389.0L790.0 425.8M756.7 385.5L793.5 422.3M760.2 381.9L797.1 418.8M763.8 378.4L800.6 415.2M767.3 374.9L804.1 411.7" stroke="#000" stroke-width="1.1" fill="none"/>
<circle cx="769" cy="410" r="17" fill="none" stroke="#000" stroke-width="2.1"/>
<clipPath id="h27"><circle cx="871.3" cy="409.7" r="17"/></clipPath>
<circle cx="871.3" cy="409.7" r="17" fill="#fff" stroke="none"/>
<path clip-path="url(#h27)" d="M836.0 408.2L872.8 445.0M839.5 404.7L876.3 441.5M843.1 401.1L879.9 437.9M846.6 397.6L883.4 434.4M850.1 394.0L887.0 430.9M853.7 390.5L890.5 427.3M857.2 387.0L894.0 423.8M860.7 383.4L897.6 420.3M864.3 379.9L901.1 416.7M867.8 376.4L904.6 413.2" stroke="#000" stroke-width="1.1" fill="none"/>
<circle cx="871.3" cy="409.7" r="17" fill="none" stroke="#000" stroke-width="2.1"/>
<clipPath id="h28"><path d="M904 452 C890 452 870 458 852 463 C838 468 828 474 823 482 L823 506 C828 514 838 519 852 523.5 C870 530 890 534 904 535 Z"/></clipPath>
<path d="M904 452 C890 452 870 458 852 463 C838 468 828 474 823 482 L823 506 C828 514 838 519 852 523.5 C870 530 890 534 904 535 Z" fill="#fff" stroke="none"/>
<path clip-path="url(#h28)" d="M780.3 491.8L865.2 576.7M786.0 486.2L870.8 571.0M791.6 480.5L876.5 565.4M797.3 474.9L882.1 559.7M803.0 469.2L887.8 554.0M808.6 463.6L893.4 548.4M814.3 457.9L899.1 542.7M819.9 452.2L904.8 537.1M825.6 446.6L910.4 531.4M831.2 440.9L916.1 525.8M836.9 435.3L921.7 520.1M842.6 429.6L927.4 514.4M848.2 424.0L933.0 508.8M853.9 418.3L938.7 503.1M859.5 412.6L944.4 497.5" stroke="#000" stroke-width="1.2" fill="none"/>
<path d="M904 452 C890 452 870 458 852 463 C838 468 828 474 823 482 C820 490 820 498 823 506 C828 514 838 519 852 523.5 C870 530 890 534 904 535" fill="none" stroke="#555" stroke-width="1" />
<rect x="823" y="483.8" width="31.799999999999955" height="19.399999999999977" fill="#fff" stroke="none" stroke-width="0" />
<line x1="823" y1="483.8" x2="854.8" y2="483.8" stroke="#000" stroke-width="1.6" />
<line x1="823" y1="503.2" x2="854.8" y2="503.2" stroke="#000" stroke-width="1.6" />
<rect x="854.8" y="480.5" width="16.5" height="26.5" fill="#fff" stroke="#000" stroke-width="1.6" />
<rect x="871.3" y="481.5" width="25.700000000000045" height="24.5" fill="#fff" stroke="#000" stroke-width="1.4" />
<line x1="874" y1="481.5" x2="874" y2="506" stroke="#000" stroke-width="1.2" />
<rect x="892.6" y="463.6" width="13.899999999999977" height="58.69999999999993" fill="#fff" stroke="#000" stroke-width="1.6" />
<rect x="897.7" y="471.7" width="12.099999999999909" height="41.80000000000001" fill="#fff" stroke="#000" stroke-width="1.8" />
<line x1="897.7" y1="480.5" x2="909.8" y2="480.5" stroke="#000" stroke-width="1.5" />
<line x1="897.7" y1="504.7" x2="909.8" y2="504.7" stroke="#000" stroke-width="1.5" />
<path d="M904.3 435.4 L909 435.4 Q911.6 435.4 911.6 438 L911.6 545.5 Q911.6 548 909 548 L904.3 548" fill="none" stroke="#000" stroke-width="1.5" />
<line x1="908" y1="437" x2="908" y2="460" stroke="#000" stroke-width="1.4" />
<line x1="908" y1="523" x2="908" y2="547" stroke="#000" stroke-width="1.4" />
<path d="M904.3 460 L908 460" fill="none" stroke="#000" stroke-width="1" />
<path d="M904.3 523 L908 523" fill="none" stroke="#000" stroke-width="1" />
<g transform="translate(668 394.4) scale(0.518) translate(-807 -136.4)">
<clipPath id="h29"><path d="M807 73 L838 73 L838 149 L826 151 L816 153 L809 158 L809 163.6 L781 163.6 L781 204 L764.4 204 L764.4 163 L757 158 L757 136.4 L807 136.4 Z"/></clipPath>
<path d="M807 73 L838 73 L838 149 L826 151 L816 153 L809 158 L809 163.6 L781 163.6 L781 204 L764.4 204 L764.4 163 L757 158 L757 136.4 L807 136.4 Z" fill="#fff" stroke="none"/>
<path clip-path="url(#h29)" d="M695.3 131.9L804.1 240.7M702.1 125.1L810.9 233.9M708.9 118.3L817.7 227.1M715.7 111.5L824.5 220.3M722.5 104.7L831.3 213.5M729.2 97.9L838.1 206.8M736.0 91.1L844.9 200.0M742.8 84.4L851.6 193.2M749.6 77.6L858.4 186.4M756.4 70.8L865.2 179.6M763.2 64.0L872.0 172.8M770.0 57.2L878.8 166.0M776.8 50.4L885.6 159.2M783.5 43.6L892.4 152.5M790.3 36.8L899.2 145.7" stroke="#000" stroke-width="1.4" fill="none"/>
<path d="M807 137.5 L807 71.5" fill="none" stroke="#000" stroke-width="3.0" />
<line x1="805.5" y1="73" x2="839.5" y2="73" stroke="#000" stroke-width="3.0" />
<line x1="838" y1="73" x2="838" y2="150" stroke="#000" stroke-width="3.0" />
<line x1="764.4" y1="136.4" x2="807" y2="136.4" stroke="#000" stroke-width="3.0" />
<rect x="769" y="139" width="26" height="9" fill="url(#st)" stroke="#000" stroke-width="2" />
<path d="M809 186 L809 160 Q809 154 812.5 154 Q816 154 816 160 L816 186" fill="#fff" stroke="#000" stroke-width="2.4" />
<rect x="781" y="163.6" width="28" height="14.400000000000006" fill="#fff" stroke="#000" stroke-width="3.0" />
<path d="M803 166 L808 171 L803 176" fill="none" stroke="#000" stroke-width="1.5" />
<rect x="782" y="180" width="11" height="23" fill="url(#st)" stroke="#000" stroke-width="2.4" />
<rect x="796" y="180" width="13" height="10" fill="#fff" stroke="#000" stroke-width="2.4" />
<clipPath id="h30"><path d="M796 190 L809 190 L809 203 L796 203 Z"/></clipPath>
<path d="M796 190 L809 190 L809 203 L796 203 Z" fill="#fff" stroke="none"/>
<path clip-path="url(#h30)" d="M804.9 183.1L789.1 198.9M806.9 185.1L791.1 200.9M808.9 187.0L793.0 202.9M810.8 189.0L795.0 204.8M812.8 191.0L797.0 206.8M814.8 193.0L799.0 208.8M816.8 194.9L800.9 210.8" stroke="#000" stroke-width="0.9" fill="none"/>
<path d="M796 190 L809 190 L809 203 L796 203 Z" fill="none" stroke="#000" stroke-width="2.4"/>
<clipPath id="h31"><path d="M811 190 L826 190 L826 209 L811 209 Z"/></clipPath>
<path d="M811 190 L826 190 L826 209 L811 209 Z" fill="#fff" stroke="none"/>
<path clip-path="url(#h31)" d="M800.7 197.4L820.6 217.3M803.3 194.9L823.1 214.7M805.8 192.3L825.7 212.2M808.4 189.8L828.2 209.6M810.9 187.3L830.7 207.1M813.5 184.7L833.3 204.5M816.0 182.2L835.8 202.0" stroke="#000" stroke-width="0.9" fill="none"/>
<path d="M811 190 L826 190 L826 209 L811 209 Z" fill="none" stroke="#000" stroke-width="2.4"/>
<line x1="764.4" y1="206" x2="810" y2="206" stroke="#000" stroke-width="3.0" />
<line x1="764.4" y1="162" x2="764.4" y2="253" stroke="#000" stroke-width="3.0" />
<path d="M756 156 L760 159 L764.4 163.5" fill="none" stroke="#000" stroke-width="2" />
<clipPath id="h32"><path d="M827 151 L850 151 L850 147 L930.4 147 L930.4 221 L901 221 L901 169 L827 169 Z"/></clipPath>
<path d="M827 151 L850 151 L850 147 L930.4 147 L930.4 221 L901 221 L901 169 L827 169 Z" fill="#fff" stroke="none"/>
<path clip-path="url(#h32)" d="M794.5 176.7L886.0 268.2M801.2 169.9L892.8 261.5M808.0 163.1L899.6 254.7M814.8 156.4L906.3 247.9M821.6 149.6L913.1 241.1M828.4 142.8L919.9 234.3M835.2 136.0L926.7 227.5M842.0 129.2L933.5 220.7M848.8 122.4L940.3 213.9M855.5 115.6L947.1 207.2M862.3 108.8L953.9 200.4M869.1 102.1L960.6 193.6M875.9 95.3L967.4 186.8" stroke="#000" stroke-width="1.4" fill="none"/>
<path d="M838 150 L850 150 L850 147 L931.9 147" fill="none" stroke="#000" stroke-width="3.0" />
<line x1="930.4" y1="147" x2="930.4" y2="222.5" stroke="#000" stroke-width="3.0" />
<path d="M827 151 L827 169 L902.5 169" fill="none" stroke="#000" stroke-width="3.0" />
<line x1="901" y1="169" x2="901" y2="221" stroke="#000" stroke-width="3.0" />
<line x1="863" y1="221" x2="931.9" y2="221" stroke="#000" stroke-width="3.0" />
<path d="M822 182 L832 182 L832 207 L866 207 L866 219 L901 219" fill="none" stroke="#222" stroke-width="5" />
<path d="M822 182 L832 182 L832 207 L866 207 L866 219 L901 219" fill="none" stroke="#bbb" stroke-width="2.6" stroke-dasharray="1.2 1.2"/>
<rect x="822" y="176" width="14" height="6" fill="#fff" stroke="#000" stroke-width="2" />
<ellipse cx="850" cy="188.5" rx="7" ry="8.5" fill="url(#st)" stroke="#000" stroke-width="2.6" />
<ellipse cx="870.8" cy="188.5" rx="7" ry="8.5" fill="url(#st)" stroke="#000" stroke-width="2.6" />
<ellipse cx="890.5" cy="188.5" rx="7" ry="8.5" fill="url(#st)" stroke="#000" stroke-width="2.6" />
<line x1="843" y1="192" x2="848" y2="206" stroke="#000" stroke-width="2" />
<line x1="857" y1="190" x2="863" y2="212" stroke="#000" stroke-width="2" />
<line x1="863.8" y1="192" x2="868.8" y2="206" stroke="#000" stroke-width="2" />
<line x1="877.8" y1="190" x2="883.8" y2="212" stroke="#000" stroke-width="2" />
<circle cx="879" cy="208.5" r="3.6" fill="url(#st)" stroke="#000" stroke-width="2" />
<circle cx="892" cy="208.5" r="3.6" fill="url(#st)" stroke="#000" stroke-width="2" />
<line x1="873" y1="216" x2="900" y2="216" stroke="#000" stroke-width="1.5" />
<line x1="764.4" y1="211" x2="862.5" y2="211" stroke="#000" stroke-width="3.0" />
<line x1="861" y1="211" x2="861" y2="253" stroke="#000" stroke-width="3.0" />
<rect x="838" y="77" width="35" height="61" fill="#fff" stroke="#000" stroke-width="3.0" />
<line x1="851" y1="77" x2="851" y2="138" stroke="#000" stroke-width="3.0" />
<line x1="851" y1="93" x2="873" y2="93" stroke="#000" stroke-width="3.0" />
<line x1="851" y1="119" x2="873" y2="119" stroke="#000" stroke-width="3.0" />
<line x1="839" y1="115" x2="849" y2="101" stroke="#000" stroke-width="2.6" />
<clipPath id="h33"><path d="M919 222 L963 222 L958 238 L924 238 Z"/></clipPath>
<path d="M919 222 L963 222 L958 238 L924 238 Z" fill="#fff" stroke="none"/>
<path clip-path="url(#h33)" d="M910.6 227.6L943.4 260.4M912.6 225.6L945.4 258.4M914.6 223.6L947.4 256.4M916.6 221.6L949.4 254.4M918.5 219.6L951.4 252.5M920.5 217.7L953.3 250.5M922.5 215.7L955.3 248.5M924.5 213.7L957.3 246.5M926.5 211.7L959.3 244.5M928.4 209.7L961.3 242.6M930.4 207.8L963.2 240.6M932.4 205.8L965.2 238.6M934.4 203.8L967.2 236.6M936.4 201.8L969.2 234.6M938.3 199.8L971.2 232.7" stroke="#000" stroke-width="0.9" fill="none"/>
<path d="M919 222 L963 222 L958 238 L924 238 Z" fill="none" stroke="#000" stroke-width="1.5"/>
<rect x="926" y="224" width="32" height="8" fill="#fff" stroke="#000" stroke-width="1.5" />
<circle cx="942" cy="225.5" r="5.5" fill="url(#st)" stroke="#000" stroke-width="2.6" />
<line x1="901" y1="221" x2="963" y2="221" stroke="#000" stroke-width="2" />
</g>
</g>
<g id="4_detA">
<clipPath id="h34"><path d="M807 136.4 L722 136.4 C723 128 725 125 728 122 C733 116 738 112 743.6 110.3 C746 109.6 748 109.8 750 108.6 C755 105 759 100.5 764 97 C768 94 772 89.5 777 87.2 C781 85.3 784 84.2 787 82.4 C790 80.5 793 78.5 796.4 76.4 C800 74 803 71.5 806 69 C808 67 810 66 813 65.5 L807 66 Z"/></clipPath>
<path d="M807 136.4 L722 136.4 C723 128 725 125 728 122 C733 116 738 112 743.6 110.3 C746 109.6 748 109.8 750 108.6 C755 105 759 100.5 764 97 C768 94 772 89.5 777 87.2 C781 85.3 784 84.2 787 82.4 C790 80.5 793 78.5 796.4 76.4 C800 74 803 71.5 806 69 C808 67 810 66 813 65.5 L807 66 Z" fill="#fff" stroke="none"/>
<path clip-path="url(#h34)" d="M775.4 20.8L686.9 100.4M780.6 26.6L692.2 106.2M785.9 32.4L697.4 112.0M791.1 38.2L702.6 117.8M796.3 44.0L707.8 123.6M801.5 49.8L713.0 129.4M806.7 55.6L718.3 135.2M812.0 61.4L723.5 141.0M817.2 67.1L728.7 146.8M822.4 72.9L733.9 152.6M827.6 78.7L739.1 158.4M832.8 84.5L744.3 164.2M838.1 90.3L749.6 170.0M843.3 96.1L754.8 175.8M848.5 101.9L760.0 181.6" stroke="#000" stroke-width="1.4" fill="none"/>
<clipPath id="h35"><path d="M722 136.4 L755.6 136.4 L755.6 158 L722 158 Z"/></clipPath>
<path d="M722 136.4 L755.6 136.4 L755.6 158 L722 158 Z" fill="#fff" stroke="none"/>
<path clip-path="url(#h35)" d="M745.0 121.6L712.7 150.7M750.2 127.4L718.0 156.5M755.4 133.2L723.2 162.3M760.7 139.0L728.4 168.1M765.9 144.8L733.6 173.9" stroke="#000" stroke-width="1.4" fill="none"/>
<line x1="721" y1="136.4" x2="808" y2="136.4" stroke="#000" stroke-width="3.0" />
<line x1="722" y1="158" x2="748" y2="158" stroke="#000" stroke-width="3.0" />
<path d="M722 158 L748 158 L748 210 L722 210" fill="none" stroke="#000" stroke-width="3.0" />
<path d="M748 160 L753 166 L753 204 L748 210" fill="none" stroke="#000" stroke-width="2" />
<clipPath id="cA"><rect x="722.5" y="150" width="40" height="70"/></clipPath>
<g clip-path="url(#cA)">
<circle cx="710.5" cy="185.5" r="22.5" fill="none" stroke="#000" stroke-width="8" />
</g>
<clipPath id="h36"><path d="M722 212 L755.6 212 L755.6 236 L722 236 Z"/></clipPath>
<path d="M722 212 L755.6 212 L755.6 236 L722 236 Z" fill="#fff" stroke="none"/>
<path clip-path="url(#h36)" d="M713.4 217.8L745.0 249.4M720.1 211.0L751.8 242.7M726.9 204.2L758.6 235.9M733.7 197.5L765.3 229.1" stroke="#000" stroke-width="1.4" fill="none"/>
<line x1="722" y1="212" x2="755.6" y2="212" stroke="#000" stroke-width="3.0" />
<line x1="721" y1="236" x2="755.6" y2="236" stroke="#000" stroke-width="3.0" />
<line x1="755.6" y1="135" x2="755.6" y2="253" stroke="#000" stroke-width="3.0" />
<clipPath id="h37"><path d="M807 73 L838 73 L838 149 L826 151 L816 153 L809 158 L809 163.6 L781 163.6 L781 204 L764.4 204 L764.4 163 L757 158 L757 136.4 L807 136.4 Z"/></clipPath>
<path d="M807 73 L838 73 L838 149 L826 151 L816 153 L809 158 L809 163.6 L781 163.6 L781 204 L764.4 204 L764.4 163 L757 158 L757 136.4 L807 136.4 Z" fill="#fff" stroke="none"/>
<path clip-path="url(#h37)" d="M695.3 131.9L804.1 240.7M702.1 125.1L810.9 233.9M708.9 118.3L817.7 227.1M715.7 111.5L824.5 220.3M722.5 104.7L831.3 213.5M729.2 97.9L838.1 206.8M736.0 91.1L844.9 200.0M742.8 84.4L851.6 193.2M749.6 77.6L858.4 186.4M756.4 70.8L865.2 179.6M763.2 64.0L872.0 172.8M770.0 57.2L878.8 166.0M776.8 50.4L885.6 159.2M783.5 43.6L892.4 152.5M790.3 36.8L899.2 145.7" stroke="#000" stroke-width="1.4" fill="none"/>
<path d="M807 137.5 L807 71.5" fill="none" stroke="#000" stroke-width="3.0" />
<line x1="805.5" y1="73" x2="839.5" y2="73" stroke="#000" stroke-width="3.0" />
<line x1="838" y1="73" x2="838" y2="150" stroke="#000" stroke-width="3.0" />
<line x1="764.4" y1="136.4" x2="807" y2="136.4" stroke="#000" stroke-width="3.0" />
<rect x="769" y="139" width="26" height="9" fill="url(#st)" stroke="#000" stroke-width="2" />
<path d="M809 186 L809 160 Q809 154 812.5 154 Q816 154 816 160 L816 186" fill="#fff" stroke="#000" stroke-width="2.4" />
<rect x="781" y="163.6" width="28" height="14.400000000000006" fill="#fff" stroke="#000" stroke-width="3.0" />
<path d="M803 166 L808 171 L803 176" fill="none" stroke="#000" stroke-width="1.5" />
<rect x="782" y="180" width="11" height="23" fill="url(#st)" stroke="#000" stroke-width="2.4" />
<rect x="796" y="180" width="13" height="10" fill="#fff" stroke="#000" stroke-width="2.4" />
<clipPath id="h38"><path d="M796 190 L809 190 L809 203 L796 203 Z"/></clipPath>
<path d="M796 190 L809 190 L809 203 L796 203 Z" fill="#fff" stroke="none"/>
<path clip-path="url(#h38)" d="M804.9 183.1L789.1 198.9M806.9 185.1L791.1 200.9M808.9 187.0L793.0 202.9M810.8 189.0L795.0 204.8M812.8 191.0L797.0 206.8M814.8 193.0L799.0 208.8M816.8 194.9L800.9 210.8" stroke="#000" stroke-width="0.9" fill="none"/>
<path d="M796 190 L809 190 L809 203 L796 203 Z" fill="none" stroke="#000" stroke-width="2.4"/>
<clipPath id="h39"><path d="M811 190 L826 190 L826 209 L811 209 Z"/></clipPath>
<path d="M811 190 L826 190 L826 209 L811 209 Z" fill="#fff" stroke="none"/>
<path clip-path="url(#h39)" d="M800.7 197.4L820.6 217.3M803.3 194.9L823.1 214.7M805.8 192.3L825.7 212.2M808.4 189.8L828.2 209.6M810.9 187.3L830.7 207.1M813.5 184.7L833.3 204.5M816.0 182.2L835.8 202.0" stroke="#000" stroke-width="0.9" fill="none"/>
<path d="M811 190 L826 190 L826 209 L811 209 Z" fill="none" stroke="#000" stroke-width="2.4"/>
<line x1="764.4" y1="206" x2="810" y2="206" stroke="#000" stroke-width="3.0" />
<line x1="764.4" y1="162" x2="764.4" y2="253" stroke="#000" stroke-width="3.0" />
<path d="M756 156 L760 159 L764.4 163.5" fill="none" stroke="#000" stroke-width="2" />
<clipPath id="h40"><path d="M827 151 L850 151 L850 147 L930.4 147 L930.4 221 L901 221 L901 169 L827 169 Z"/></clipPath>
<path d="M827 151 L850 151 L850 147 L930.4 147 L930.4 221 L901 221 L901 169 L827 169 Z" fill="#fff" stroke="none"/>
<path clip-path="url(#h40)" d="M794.5 176.7L886.0 268.2M801.2 169.9L892.8 261.5M808.0 163.1L899.6 254.7M814.8 156.4L906.3 247.9M821.6 149.6L913.1 241.1M828.4 142.8L919.9 234.3M835.2 136.0L926.7 227.5M842.0 129.2L933.5 220.7M848.8 122.4L940.3 213.9M855.5 115.6L947.1 207.2M862.3 108.8L953.9 200.4M869.1 102.1L960.6 193.6M875.9 95.3L967.4 186.8" stroke="#000" stroke-width="1.4" fill="none"/>
<path d="M838 150 L850 150 L850 147 L931.9 147" fill="none" stroke="#000" stroke-width="3.0" />
<line x1="930.4" y1="147" x2="930.4" y2="222.5" stroke="#000" stroke-width="3.0" />
<path d="M827 151 L827 169 L902.5 169" fill="none" stroke="#000" stroke-width="3.0" />
<line x1="901" y1="169" x2="901" y2="221" stroke="#000" stroke-width="3.0" />
<line x1="863" y1="221" x2="931.9" y2="221" stroke="#000" stroke-width="3.0" />
<path d="M822 182 L832 182 L832 207 L866 207 L866 219 L901 219" fill="none" stroke="#222" stroke-width="5" />
<path d="M822 182 L832 182 L832 207 L866 207 L866 219 L901 219" fill="none" stroke="#bbb" stroke-width="2.6" stroke-dasharray="1.2 1.2"/>
<rect x="822" y="176" width="14" height="6" fill="#fff" stroke="#000" stroke-width="2" />
<ellipse cx="850" cy="188.5" rx="7" ry="8.5" fill="url(#st)" stroke="#000" stroke-width="2.6" />
<ellipse cx="870.8" cy="188.5" rx="7" ry="8.5" fill="url(#st)" stroke="#000" stroke-width="2.6" />
<ellipse cx="890.5" cy="188.5" rx="7" ry="8.5" fill="url(#st)" stroke="#000" stroke-width="2.6" />
<line x1="843" y1="192" x2="848" y2="206" stroke="#000" stroke-width="2" />
<line x1="857" y1="190" x2="863" y2="212" stroke="#000" stroke-width="2" />
<line x1="863.8" y1="192" x2="868.8" y2="206" stroke="#000" stroke-width="2" />
<line x1="877.8" y1="190" x2="883.8" y2="212" stroke="#000" stroke-width="2" />
<circle cx="879" cy="208.5" r="3.6" fill="url(#st)" stroke="#000" stroke-width="2" />
<circle cx="892" cy="208.5" r="3.6" fill="url(#st)" stroke="#000" stroke-width="2" />
<line x1="873" y1="216" x2="900" y2="216" stroke="#000" stroke-width="1.5" />
<line x1="764.4" y1="211" x2="862.5" y2="211" stroke="#000" stroke-width="3.0" />
<line x1="861" y1="211" x2="861" y2="253" stroke="#000" stroke-width="3.0" />
<rect x="838" y="77" width="35" height="61" fill="#fff" stroke="#000" stroke-width="3.0" />
<line x1="851" y1="77" x2="851" y2="138" stroke="#000" stroke-width="3.0" />
<line x1="851" y1="93" x2="873" y2="93" stroke="#000" stroke-width="3.0" />
<line x1="851" y1="119" x2="873" y2="119" stroke="#000" stroke-width="3.0" />
<line x1="839" y1="115" x2="849" y2="101" stroke="#000" stroke-width="2.6" />
<clipPath id="h41"><path d="M919 222 L963 222 L958 238 L924 238 Z"/></clipPath>
<path d="M919 222 L963 222 L958 238 L924 238 Z" fill="#fff" stroke="none"/>
<path clip-path="url(#h41)" d="M910.6 227.6L943.4 260.4M912.6 225.6L945.4 258.4M914.6 223.6L947.4 256.4M916.6 221.6L949.4 254.4M918.5 219.6L951.4 252.5M920.5 217.7L953.3 250.5M922.5 215.7L955.3 248.5M924.5 213.7L957.3 246.5M926.5 211.7L959.3 244.5M928.4 209.7L961.3 242.6M930.4 207.8L963.2 240.6M932.4 205.8L965.2 238.6M934.4 203.8L967.2 236.6M936.4 201.8L969.2 234.6M938.3 199.8L971.2 232.7" stroke="#000" stroke-width="0.9" fill="none"/>
<path d="M919 222 L963 222 L958 238 L924 238 Z" fill="none" stroke="#000" stroke-width="1.5"/>
<rect x="926" y="224" width="32" height="8" fill="#fff" stroke="#000" stroke-width="1.5" />
<circle cx="942" cy="225.5" r="5.5" fill="url(#st)" stroke="#000" stroke-width="2.6" />
<line x1="901" y1="221" x2="963" y2="221" stroke="#000" stroke-width="2" />
<path d="M722 136 C723 128 725 125 728 122 C733 116 738 112 743.6 110.3 C746 109.6 748 109.8 750 108.6 C755 105 759 100.5 764 97 C768 94 772 89.5 777 87.2 C781 85.3 784 84.2 787 82.4 C790 80.5 793 78.5 796.4 76.4 C800 74 803 71.5 806 69 C808 67 810 66 813 65.5 C830 64.5 850 64 872 72 C890 79 904 90 914 100 C930 118 942 130 950 146 C958 162 962 180 964 200 C965 215 965 230 963 241" fill="none" stroke="#555" stroke-width="1" />
<path d="M963 241 C950 243 940 240 930 242 C915 246 905 248 890 250 C860 254 840 254 820 254.5 C790 255 760 255 742 252 C732 250 725 246 723 240" fill="none" stroke="#555" stroke-width="1" stroke-dasharray="14 3"/>
<path d="M723 240 C721 220 723 200 721 180 C721 165 723 150 722 136" fill="none" stroke="#777" stroke-width="1" />
<text x="831.5" y="25.5" font-size="25" text-anchor="middle">A</text>
<text x="760.5" y="50.4" font-size="20" text-anchor="start">9</text>
<text x="846" y="50.4" font-size="20" text-anchor="start">10</text>
<text x="720.5" y="72" font-size="20" text-anchor="start">8</text>
<text x="938.5" y="69.6" font-size="20" text-anchor="start">11</text>
<text x="959" y="91.5" font-size="20" text-anchor="start">12</text>
<text x="962.5" y="128.3" font-size="20" text-anchor="start">13</text>
<text x="973.5" y="177.3" font-size="20" text-anchor="start">14</text>
<text x="762.5" y="293.7" font-size="20" text-anchor="start">7</text>
<text x="790.2" y="293.9" font-size="20" text-anchor="start">6</text>
<text x="819.5" y="293.9" font-size="20" text-anchor="start">5</text>
<line x1="766" y1="52.5" x2="828" y2="168" stroke="#000" stroke-width="1.4" />
<line x1="730" y1="77" x2="781" y2="175" stroke="#000" stroke-width="1.4" />
<line x1="854.5" y1="53.4" x2="827.5" y2="79.5" stroke="#000" stroke-width="1.4" />
<line x1="947.5" y1="72" x2="874" y2="182" stroke="#000" stroke-width="1.4" />
<line x1="968" y1="94.5" x2="918" y2="154" stroke="#000" stroke-width="1.4" />
<line x1="971" y1="131" x2="897" y2="206" stroke="#000" stroke-width="1.4" />
<line x1="983" y1="182" x2="948" y2="219" stroke="#000" stroke-width="1.4" />
<line x1="771.2" y1="273.2" x2="798" y2="204" stroke="#000" stroke-width="1.4" />
<line x1="796.8" y1="273.2" x2="816" y2="206" stroke="#000" stroke-width="1.4" />
<line x1="824.3" y1="274.5" x2="846" y2="212" stroke="#000" stroke-width="1.4" />
</g>
<g id="5_labels">
<path d="M302.3 655 L302.3 332 C302.3 322 308 316 320 312 C335 307 345 305.5 358 305.5 C372 305.5 385 307 398 312 C409 316 413.8 322 413.8 332 L413.8 655 C413.8 662 405 668 392 671 C380 674 370 675.2 358 675.2 C346 675.2 336 674 324 671 C311 668 302.3 662 302.3 655 Z" fill="none" stroke="#222" stroke-width="1" />
<circle cx="687" cy="421" r="65" fill="none" stroke="#222" stroke-width="1" />
<text x="308.5" y="234.5" font-size="27" text-anchor="middle">C</text>
<line x1="312.5" y1="238.75" x2="352.5" y2="305.5" stroke="#000" stroke-width="1.4" />
<text x="771.5" y="337" font-size="25" text-anchor="middle">A</text>
<line x1="760" y1="338.5" x2="723" y2="365.6" stroke="#000" stroke-width="1.4" />
<text x="968.5" y="481.3" font-size="25" text-anchor="middle">B</text>
<line x1="937.3" y1="492" x2="975.4" y2="492" stroke="#444" stroke-width="1" />
<path d="M937.3 492 L957 489.3 L957 494.7 Z" fill="#fff" stroke="#222" stroke-width="0.8" />
<text x="355" y="271" font-size="20" text-anchor="start">1</text>
<text x="353" y="294" font-size="20" text-anchor="start">2</text>
<path d="M367.5 262.5 L374.5 262.5 L374.5 288 L367.5 288" fill="none" stroke="#000" stroke-width="1" />
<line x1="374.5" y1="288" x2="405" y2="336.5" stroke="#000" stroke-width="1.4" />
<text x="472.5" y="269.3" font-size="20" text-anchor="start">3</text>
<line x1="481" y1="272" x2="529" y2="402" stroke="#000" stroke-width="1.4" />
<text x="880" y="345.3" font-size="20" text-anchor="start">4</text>
<line x1="883" y1="347.3" x2="838" y2="400.5" stroke="#000" stroke-width="1.4" />
<text x="954.5" y="414.3" font-size="20" text-anchor="start">15</text>
<line x1="965" y1="416.6" x2="910" y2="471.6" stroke="#000" stroke-width="1.4" />
<text x="240" y="291" font-size="20" text-anchor="start">17</text>
<text x="240" y="314.4" font-size="20" text-anchor="start">16</text>
<text x="240.5" y="340.4" font-size="20" text-anchor="start">22</text>
<text x="240.5" y="391" font-size="20" text-anchor="start">21</text>
<text x="238" y="437" font-size="20" text-anchor="start">20</text>
<text x="238" y="483" font-size="20" text-anchor="start">19</text>
<text x="238" y="518" font-size="20" text-anchor="start">18</text>
<text x="233.5" y="565.3" font-size="20" text-anchor="start">17</text>
<text x="233.5" y="588.4" font-size="20" text-anchor="start">16</text>
<path d="M266 282.4 L270 282.4 L270 306.6 L266 306.6" fill="none" stroke="#000" stroke-width="1" />
<line x1="270" y1="306.6" x2="329" y2="369" stroke="#000" stroke-width="1.4" />
<line x1="268" y1="334" x2="374" y2="398" stroke="#000" stroke-width="1.4" />
<line x1="266.4" y1="385.6" x2="391" y2="436.5" stroke="#000" stroke-width="1.4" />
<line x1="266.4" y1="430.4" x2="380" y2="452.4" stroke="#000" stroke-width="1.4" />
<line x1="264" y1="475" x2="340" y2="463.6" stroke="#000" stroke-width="1.4" />
<line x1="266" y1="508" x2="459" y2="483.6" stroke="#000" stroke-width="1.4" />
<path d="M262.7 558.5 L270.4 558.5 L270.4 582 L262.7 582" fill="none" stroke="#000" stroke-width="1" />
<line x1="270.4" y1="558.5" x2="361" y2="516.4" stroke="#000" stroke-width="1.4" />
</g>
</svg>
</body></html>
